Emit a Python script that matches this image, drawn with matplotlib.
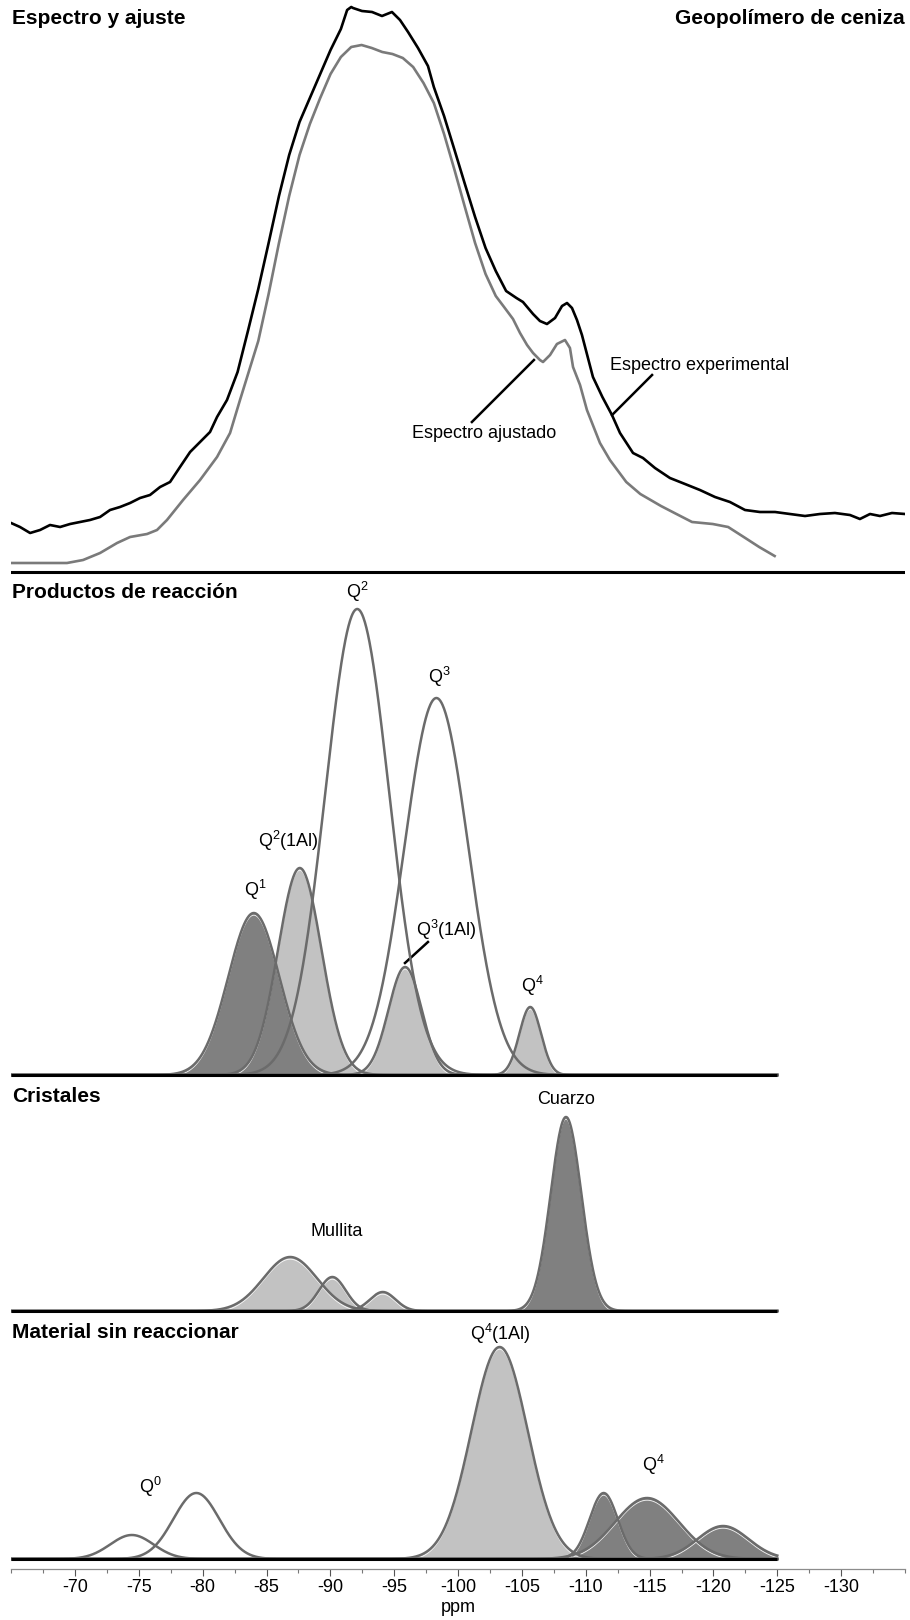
import numpy as np
import matplotlib
matplotlib.use('Agg')
import matplotlib.pyplot as plt

plt.rcParams['font.family'] = ['Liberation Sans', 'DejaVu Sans']
plt.rcParams['mathtext.fontset'] = 'custom'
plt.rcParams['mathtext.rm'] = 'Liberation Sans'
plt.rcParams['mathtext.default'] = 'regular'

# ---- panel 1: experimental spectrum and fitted spectrum (ppm, a.u.)
exp_ppm = [-64.99, -65.69, -66.48, -67.26, -68.04, -68.83, -69.61, -70.39, -71.17, -71.96,
           -72.74, -73.52, -74.31, -75.09, -75.87, -76.66, -77.44, -78.22, -79.01, -79.79,
           -80.57, -81.12, -81.90, -82.73, -83.54, -84.35, -85.16, -85.97, -86.77, -87.58,
           -88.39, -89.20, -90.01, -90.82, -91.31, -91.63, -91.77, -92.47, -93.26, -94.04,
           -94.82, -95.45, -96.08, -96.86, -97.64, -98.10, -98.90, -99.72, -100.53, -101.33,
           -102.15, -102.95, -103.76, -104.57, -105.08, -105.87, -106.41, -106.96, -107.59, -108.14,
           -108.53, -108.92, -109.31, -109.70, -110.56, -111.30, -112.05, -112.68, -113.70, -114.48,
           -115.42, -116.59, -117.77, -118.94, -120.12, -121.29, -122.47, -123.64, -124.82, -125.99,
           -127.17, -128.34, -129.51, -130.69, -131.47, -132.26, -133.04, -133.98, -135.00]
exp_int = [49, 45, 39, 42, 47, 45, 48, 50, 52, 55,
           62, 65, 69, 74, 77, 85, 90, 105, 120, 130,
           140, 155, 172, 200, 241, 283, 329, 376, 417, 450,
           474, 498, 522, 543, 562, 565, 564, 561, 560, 556,
           560, 552, 540, 524, 506, 485, 456, 422, 388, 355,
           324, 301, 281, 274, 270, 258, 251, 248, 254, 266,
           269, 264, 252, 237, 195, 175, 157, 139, 119, 114,
           104, 94, 88, 82, 75, 70, 62, 60, 60, 58,
           56, 58, 59, 57, 53, 58, 56, 59, 58]

fit_ppm = [-64.86, -66.71, -69.37, -70.63, -71.96, -73.29, -74.31, -75.64, -76.42, -77.20,
           -78.46, -79.79, -81.12, -82.14, -82.92, -84.35, -85.16, -85.97, -86.77, -87.58,
           -88.39, -89.20, -90.01, -90.82, -91.63, -92.44, -93.24, -94.06, -94.86, -95.67,
           -96.48, -97.29, -98.10, -98.90, -99.72, -100.53, -101.33, -102.15, -102.95, -103.60,
           -104.30, -104.85, -105.40, -105.87, -106.41, -106.65, -107.20, -107.74, -108.37, -108.76,
           -109.00, -109.55, -110.09, -111.11, -111.89, -113.17, -114.27, -115.08, -115.89, -117.10,
           -118.32, -119.94, -121.15, -122.37, -123.58, -124.79]
fit_int = [9, 9, 9, 12, 19, 29, 35, 38, 42, 52,
           72, 92, 115, 139, 172, 231, 278, 329, 376, 417,
           448, 474, 498, 515, 525, 527, 524, 520, 518, 514,
           505, 489, 469, 438, 402, 365, 329, 298, 276, 265,
           253, 239, 227, 219, 212, 210, 217, 228, 232, 224,
           205, 187, 162, 129, 112, 90, 78, 72, 66, 58,
           50, 48, 45, 35, 25, 16]

# ---- deconvoluted components: centre (ppm), height (a.u.), sigma (ppm), fill
prod_centers = [-84.0, -87.6, -92.1, -98.3, -95.85, -105.65]
prod_heights = [162, 207, 466, 377, 108, 68]
prod_sigmas = [2.0, 1.7, 2.5, 2.5, 1.3, 0.85]
prod_fills = ['dark', 'light', None, None, 'light', 'light']

cris_centers = [-86.85, -90.15, -94.1, -108.45]
cris_heights = [54, 34, 19, 194]
cris_sigmas = [2.1, 1.05, 1.0, 1.2]
cris_fills = ['light', 'light', 'light', 'dark']

mat_centers = [-74.45, -79.5, -103.25, -111.4, -114.8, -120.75]
mat_heights = [24, 66, 212, 66, 61, 33]
mat_sigmas = [1.7, 1.8, 2.2, 1.1, 2.5, 2.0]
mat_fills = [None, None, 'light', 'dark', 'dark', 'dark']

# labels: text, ppm, intensity
prod_labels = [('Q$^{1}$', -84.1, 185), ('Q$^{2}$(1Al)', -86.7, 234), ('Q$^{2}$', -92.1, 483),
               ('Q$^{3}$', -98.5, 398), ('Q$^{3}$(1Al)', -99.1, 145), ('Q$^{4}$', -105.8, 89)]
cris_labels = [('Cuarzo', -108.45, 212), ('Mullita', -90.5, 79)]
mat_labels = [('Q$^{0}$', -75.9, 72), ('Q$^{4}$(1Al)', -103.3, 225), ('Q$^{4}$', -115.3, 94)]

tick_values = [-70, -75, -80, -85, -90, -95, -100, -105, -110, -115, -120, -125, -130]
tick_labels = ['-70', '-75', '-80', '-85', '-90', '-95', '-100', '-105', '-110', '-115',
               '-120', '-125', '-130']

x_grid = np.linspace(-65, -125, 1500)

LIGHT = '#c2c2c2'
DARK = '#808080'
EDGE = '#6b6b6b'

W, H = 910, 1620
fig = plt.figure(figsize=(9.1, 16.2), dpi=100)
fig.patch.set_facecolor('white')


def panel(top, base, bottom):
    ax = fig.add_axes([11.2 / W, 1 - bottom / H, (905 - 11.2) / W, (bottom - top) / H])
    ax.set_xlim(-65, -135)
    ax.set_ylim(base - bottom, base - top)
    ax.set_axis_off()
    return ax


def components(ax, centers, heights, sigmas, fills):
    curves = [h * np.exp(-0.5 * ((x_grid - c) / s) ** 2)
              for c, h, s in zip(centers, heights, sigmas)]
    for kind, zo in (('light', 1), ('dark', 2)):
        for g, f in zip(curves, fills):
            if f == kind:
                ax.fill_between(x_grid, 0, g, color=LIGHT if kind == 'light' else DARK,
                                lw=0, zorder=zo)
    for g, f in zip(curves, fills):
        if f is not None:
            inner = np.where(g > 2.2, g - 2.2, np.nan)
            ax.plot(x_grid, inner, color='white', lw=0.7, alpha=0.85, zorder=3)
    for g in curves:
        ax.plot(x_grid, g, color=EDGE, lw=1.8, zorder=4)
    ax.hlines(0, x_grid[0], x_grid[-1], color='black', lw=2.2, zorder=5)


# panel 1
ax1 = panel(0, 572, 580)
ax1.plot(fit_ppm, fit_int, color='#7a7a7a', lw=1.9)
ax1.plot(exp_ppm, exp_int, color='black', lw=1.9)
ax1.axhline(0, color='black', lw=2.2)
ax1.plot([-115.19, -112.06], [197, 157], color='black', lw=1.8)
ax1.plot([-101.08, -105.94], [150, 212], color='black', lw=1.8)
ax1.text(-111.9, 207, 'Espectro experimental', fontsize=13, ha='left', va='center')
ax1.text(-96.4, 139, 'Espectro ajustado', fontsize=13, ha='left', va='center')

# panel 2
ax2 = panel(580, 1075, 1083)
components(ax2, prod_centers, prod_heights, prod_sigmas, prod_fills)
for t, x, y in prod_labels:
    ax2.text(x, y, t, fontsize=13, ha='center', va='center')
ax2.plot([-97.64, -95.84], [133, 112], color='black', lw=1.8)

# panel 3
ax3 = panel(1083, 1311, 1319)
components(ax3, cris_centers, cris_heights, cris_sigmas, cris_fills)
for t, x, y in cris_labels:
    ax3.text(x, y, t, fontsize=13, ha='center', va='center')

# panel 4 with the ppm axis
ax4 = fig.add_axes([11.2 / W, 1 - 1569 / H, (905 - 11.2) / W, (1569 - 1319) / H])
ax4.set_xlim(-65, -135)
ax4.set_ylim(1559 - 1569, 1559 - 1319)
ax4.patch.set_visible(False)
for s in ('top', 'left', 'right'):
    ax4.spines[s].set_visible(False)
ax4.spines['bottom'].set_color('#8c8c8c')
ax4.spines['bottom'].set_linewidth(0.9)
ax4.set_yticks([])
components(ax4, mat_centers, mat_heights, mat_sigmas, mat_fills)
for t, x, y in mat_labels:
    ax4.text(x, y, t, fontsize=13, ha='center', va='center')
ax4.set_xticks(tick_values, labels=tick_labels)
ax4.set_xticks(np.arange(-65, -135.1, -2.5), minor=True)
ax4.tick_params(axis='x', which='major', length=5, width=0.8, color='#555555', pad=2,
                labelsize=13)
ax4.tick_params(axis='x', which='minor', length=3, width=0.8, color='#777777')
ax4.set_xlabel('ppm', fontsize=13, labelpad=2)

# panel titles
fig.text(12 / W, 1 - 18 / H, 'Espectro y ajuste', fontsize=15, fontweight='bold', va='center')
fig.text(905 / W, 1 - 18 / H, 'Geopolímero de ceniza', fontsize=15, fontweight='bold',
         va='center', ha='right')
fig.text(12 / W, 1 - 592 / H, 'Productos de reacción', fontsize=15, fontweight='bold',
         va='center')
fig.text(12 / W, 1 - 1097 / H, 'Cristales', fontsize=15, fontweight='bold', va='center')
fig.text(12 / W, 1 - 1332 / H, 'Material sin reaccionar', fontsize=15, fontweight='bold',
         va='center')

fig.savefig('out.png', dpi=100, facecolor='white')
